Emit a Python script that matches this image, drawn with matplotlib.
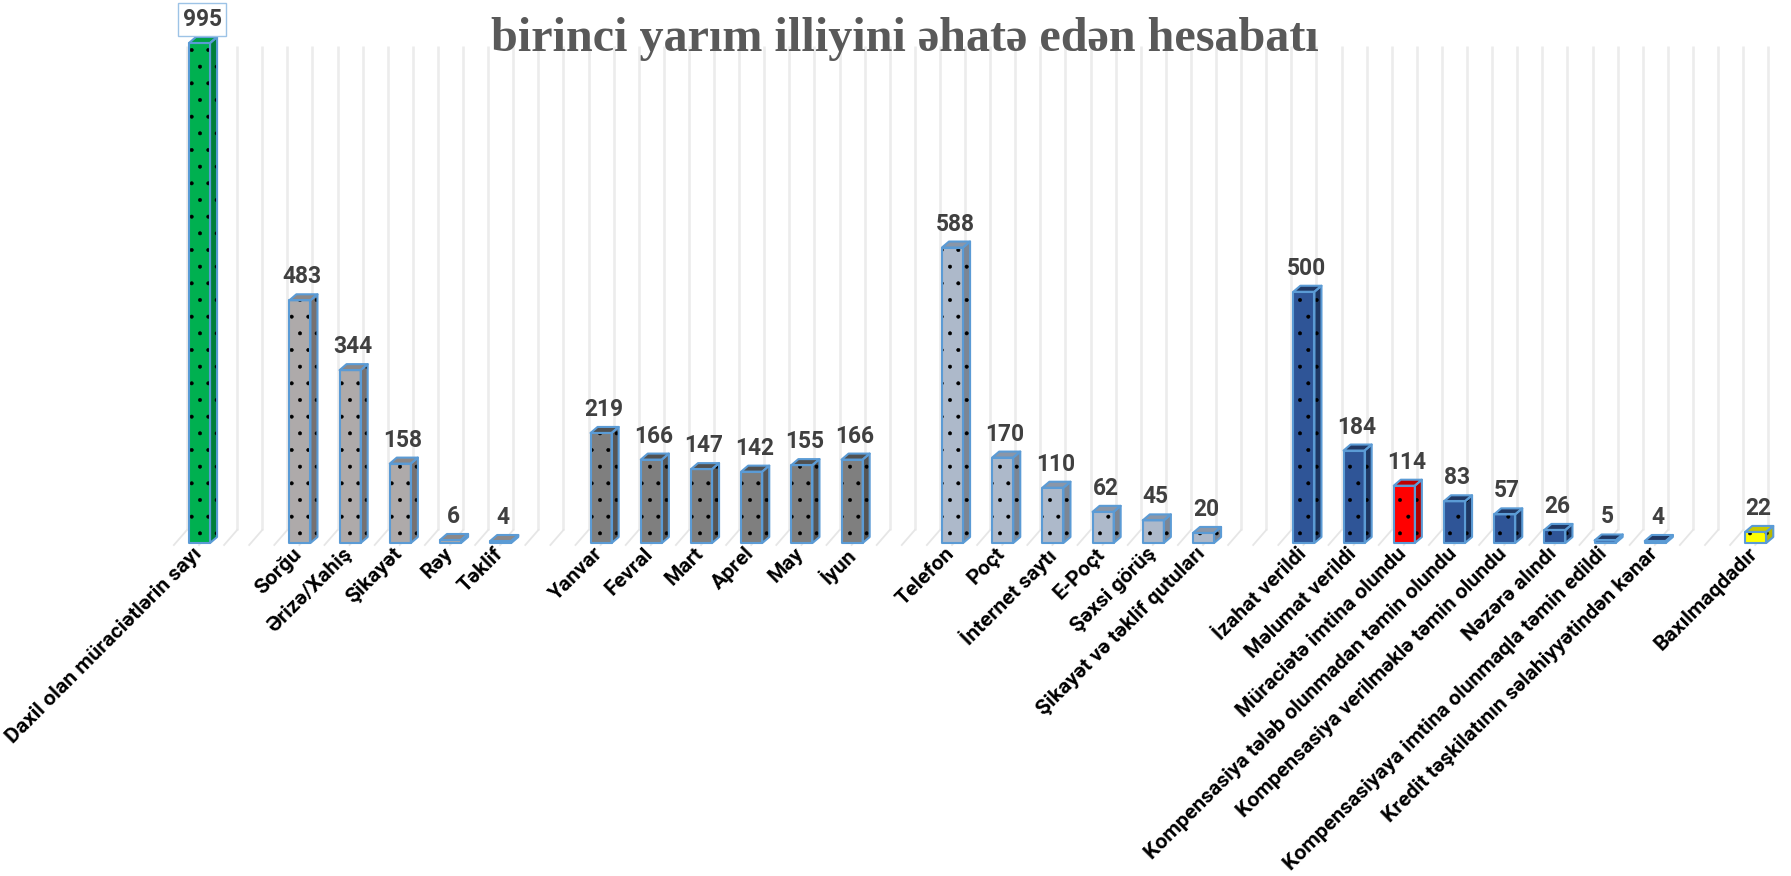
import matplotlib
matplotlib.use("Agg")
import matplotlib.pyplot as plt
from matplotlib.patches import Polygon

plt.rcParams["hatch.linewidth"] = 0.4

# ---------------- data ----------------
title_text = "birinci yarım illiyini əhatə edən hesabatı"

total_labels = ["Daxil olan müraciətlərin sayı"]
total_values = [995]

type_labels = ["Sorğu", "Ərizə/Xahiş", "Şikayət", "Rəy", "Təklif"]
type_values = [483, 344, 158, 6, 4]

month_labels = ["Yanvar", "Fevral", "Mart", "Aprel", "May", "İyun"]
month_values = [219, 166, 147, 142, 155, 166]

channel_labels = ["Telefon", "Poçt", "İnternet saytı", "E-Poçt", "Şəxsi görüş",
                  "Şikayət və təklif qutuları"]
channel_values = [588, 170, 110, 62, 45, 20]

result_labels = ["İzahat verildi", "Məlumat verildi", "Müraciətə imtina olundu",
                 "Kompensasiya tələb olunmadan təmin olundu",
                 "Kompensasiya verilməklə təmin olundu", "Nəzərə alındı",
                 "Kompensasiyaya imtina olunmaqla təmin edildi",
                 "Kredit təşkilatının səlahiyyətindən kənar"]
result_values = [500, 184, 114, 83, 57, 26, 5, 4]

pending_labels = ["Baxılmaqdadır"]
pending_values = [22]

# ---------------- styles ----------------
# (front, side, top)
green = ("#00B050", "#00803A", "#00A046")
lgray = ("#AEAAAA", "#767171", "#8C8888")
dgray = ("#7F7F7F", "#555555", "#505050")
lblue = ("#ADB9CA", "#7C8694", "#8A96A8")
dblue = ("#2F5597", "#1F3864", "#203864")
red = ("#FF0000", "#B00000", "#C00000")
yellow = ("#FFFF00", "#B8B800", "#C8C800")
EDGE = "#5B9BD5"

groups = [
    (total_labels, total_values, [green]),
    (type_labels, type_values, [lgray] * 5),
    (month_labels, month_values, [dgray] * 6),
    (channel_labels, channel_values, [lblue] * 6),
    (result_labels, result_values, [dblue, dblue, red] + [dblue] * 5),
    (pending_labels, pending_values, [yellow]),
]

# ---------------- figure geometry ----------------
W, H = 1791, 876
X0, SLOT = 199.5, 50.2        # pixel of first slot centre, pixels per slot
BASE, PPU = 543.0, 0.5025     # baseline pixel (from top), pixels per unit


def pv(py):
    """pixel row -> value"""
    return (BASE - py) / PPU


fig = plt.figure(figsize=(W / 100, H / 100), dpi=100)
ax = fig.add_axes([0, 0, 1, 1])
ax.set_xlim(-X0 / SLOT, (W - X0) / SLOT)
ax.set_ylim(pv(H), pv(0))
ax.axis("off")
renderer = fig.canvas.get_renderer()

SANS = ["Roboto", "DejaVu Sans"]
SERIF = ["Liberation Serif", "DejaVu Serif"]


def fit_size(text, target_px, family, base=20.0):
    t = fig.text(0, 0, text, fontsize=base, fontweight="bold", family=family)
    w = t.get_window_extent(renderer).width
    t.remove()
    return base * target_px / w


lab_size = fit_size(total_labels[0], 268, SANS)
val_size = fit_size("995", 39, SANS)
title_size = fit_size(title_text, 828, SERIF)

# ---------------- back wall & floor grid ----------------
n_slots = sum(len(g[0]) for g in groups) + len(groups) - 1
k = 0
while True:
    xg = -0.25 + 0.5 * k
    if xg > n_slots - 1 + 0.3:
        break
    ax.plot([xg, xg], [pv(530), pv(46)], color="#ECECEC", lw=1.9, zorder=1,
            solid_capstyle="butt")
    ax.plot([xg, xg - 0.26], [pv(530), pv(545)], color="#E6E6E6", lw=1.3,
            zorder=1)
    k += 1

# ---------------- bars ----------------
BW = 0.42           # front width (slots)
DX = 0.14           # depth x (slots)
DY = 6.0 / PPU      # depth y (units)


def bar3d(x, v, cols):
    f, s, t = cols
    xl, xr = x - BW / 2, x + BW / 2
    front = [(xl, 0), (xr, 0), (xr, v), (xl, v)]
    side = [(xr, 0), (xr + DX, DY), (xr + DX, v + DY), (xr, v)]
    top = [(xl, v), (xr, v), (xr + DX, v + DY), (xl + DX, v + DY)]
    for poly, c, hatch in ((front, f, "."), (side, s, "."), (top, t, None)):
        ax.add_patch(Polygon(poly, closed=True, facecolor=c, edgecolor="black",
                             lw=0, hatch=hatch, zorder=3))
        ax.add_patch(Polygon(poly, closed=True, fill=False, edgecolor=EDGE,
                             lw=1.5, joinstyle="round", zorder=4))


slot = 0
for gi, (labels, values, cols) in enumerate(groups):
    if gi > 0:
        slot += 1  # empty category between groups
    for lab, val, c in zip(labels, values, cols):
        bar3d(slot, val, c)
        bbox = None
        if gi == 0:
            bbox = dict(boxstyle="square,pad=0.2", fc="white", ec="#9DC3E6",
                        lw=1.0)
        ax.text(slot + 0.05, val + DY + 11 / PPU, f"{val}", ha="center",
                va="baseline", fontsize=val_size, fontweight="bold",
                color="#404040", bbox=bbox, zorder=6, family=SANS)
        ax.text(slot - 0.15, pv(544), lab, rotation=45, rotation_mode="anchor",
                ha="right", va="top", fontsize=lab_size, fontweight="bold",
                color="black", zorder=6, family=SANS)
        slot += 1

# ---------------- title ----------------
fig.text(905 / W, 1 - 51 / H, title_text, ha="center", va="baseline",
         fontsize=title_size, fontweight="bold", color="#595959",
         family=SERIF)

fig.savefig("out.png", dpi=100)
